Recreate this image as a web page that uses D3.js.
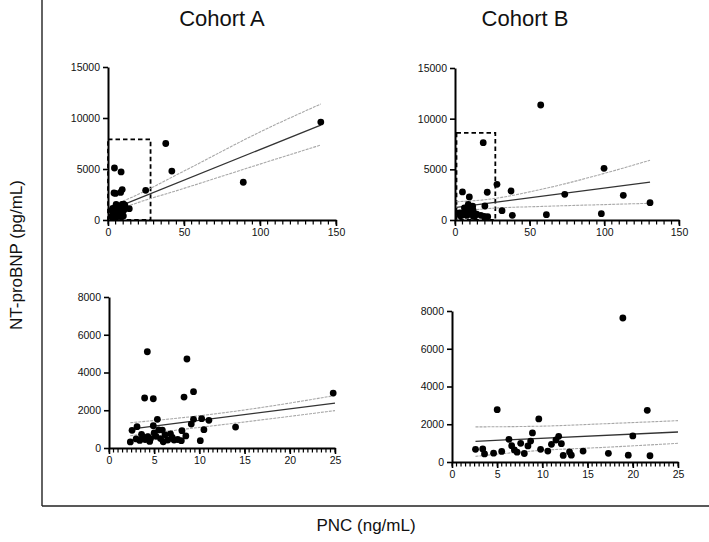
<!DOCTYPE html>
<html><head><meta charset="utf-8">
<script src="https://cdn.jsdelivr.net/npm/d3@7"></script>
<style>
body{margin:0;background:#fff;}
svg{display:block;font-family:"Liberation Sans",Arial,sans-serif;}
</style></head>
<body><svg id="c" width="709" height="542"></svg>
<script>
// ---------- DATA ----------
const titles = ["Cohort A", "Cohort B"];
const xLabel = "PNC (ng/mL)";
const yLabel = "NT-proBNP (pg/mL)";

const cohortA_pnc = [4.24,8.62,3.94,4.9,8.3,9.35,24.8,14.0,10.1,10.5,11.05,10.25,9.35,9.1,8.07,8.5,8.0,5.35,4.9,5.5,3.1,2.55,2.36,3.6,
  3.0,3.4,3.8,4.0,4.3,4.6,5.0,5.2,5.7,6.0,6.2,6.5,6.8,7.0,7.2,7.6,5.9,4.5,
  38,42,89,140];
const cohortA_bnp = [5100,4715,2650,2610,2700,2985,2910,1110,390,970,1465,1555,1520,1270,920,640,390,1520,1180,955,1130,935,320,725,
  480,400,560,450,600,500,800,620,500,330,700,420,750,560,420,450,950,350,
  7500,4800,3700,9600];

const cohortB_pnc = [2.6,3.4,3.6,4.6,5.0,5.5,6.3,6.6,6.9,7.2,7.6,8.0,8.4,8.7,8.9,9.6,9.8,10.6,11.0,11.5,11.8,12.1,12.3,13.0,13.2,14.5,17.3,18.9,19.5,20.0,21.6,21.9,
  57.4,99.8,28.1,37.5,73.5,112.7,130.6,31.5,38.4,61.2,98];
const cohortB_bnp = [670,690,430,470,2770,560,1200,865,640,520,990,450,850,1110,1540,2280,670,580,935,1165,1360,970,350,530,360,580,460,7630,360,1380,2740,330,
  11350,5100,3520,2860,2530,2435,1710,920,460,530,620];

// regression fits (line endpoints) and 95% CI bands
const fitA_all_x = [2.36, 140], fitA_all_y = [1050, 9310];
const ciA_all_x = [2.36, 13, 50, 100, 140];
const ciA_all_lo = [720, 1350, 3100, 5480, 7350];
const ciA_all_hi = [1400, 2050, 4800, 8630, 11370];

const fitA_sub_x = [2.36, 25], fitA_sub_y = [1000, 2380];
const ciA_sub_x = [2.36, 7, 14, 25];
const ciA_sub_lo = [650, 920, 1320, 1980];
const ciA_sub_hi = [1340, 1550, 1950, 2780];

const fitB_all_x = [1, 130.6], fitB_all_y = [1250, 3730];
const ciB_all_x = [1, 20, 60, 100, 130.6];
const ciB_all_lo = [800, 1100, 1350, 1520, 1650];
const ciB_all_hi = [1800, 2000, 3100, 4600, 5900];

const fitB_sub_x = [2.6, 25], fitB_sub_y = [1097, 1590];
const ciB_sub_x = [2.6, 10, 17, 25];
const ciB_sub_lo = [300, 620, 780, 990];
const ciB_sub_hi = [1860, 1900, 2030, 2190];

// zoom boxes drawn on the full-range panels [x0, x1, yMax]
const boxA = [0, 28, 7900];
const boxB = [1, 27, 8600];

const xTicksTop = [0, 50, 100, 150];
const yTicksTop = [0, 5000, 10000, 15000];
const xTicksBot = [0, 5, 10, 15, 20, 25];
const yTicksBot = [0, 2000, 4000, 6000, 8000];

// ---------- DRAW ----------
const svg = d3.select("#c");

svg.append("line").attr("x1",42).attr("x2",42).attr("y1",0).attr("y2",506)
  .attr("stroke","#222").attr("stroke-width",1.4);
svg.append("line").attr("x1",42).attr("x2",709).attr("y1",506).attr("y2",506)
  .attr("stroke","#222").attr("stroke-width",1.4);

svg.append("text").attr("x",222).attr("y",26).attr("text-anchor","middle")
  .attr("font-size",22).attr("fill","#111").text(titles[0]);
svg.append("text").attr("x",525).attr("y",26).attr("text-anchor","middle")
  .attr("font-size",22).attr("fill","#111").text(titles[1]);
svg.append("text").attr("x",366).attr("y",531).attr("text-anchor","middle")
  .attr("font-size",17).attr("fill","#111").text(xLabel);
svg.append("text").attr("transform","translate(22,255) rotate(-90)").attr("text-anchor","middle")
  .attr("font-size",17).attr("fill","#111").text(yLabel);

const pts = (xs, ys, f) => xs.map((x,i)=>({x, y: ys[i]})).filter(f || (()=>true));

const panels = [
  {px:[108,336], py:[220,67], xd:[0,150], yd:[0,15000], xt:xTicksTop, yt:yTicksTop, minor:5,
   data: pts(cohortA_pnc, cohortA_bnp), fx:fitA_all_x, fy:fitA_all_y, cx:ciA_all_x, clo:ciA_all_lo, chi:ciA_all_hi, box:boxA},
  {px:[455,679], py:[220,68], xd:[0,150], yd:[0,15000], xt:xTicksTop, yt:yTicksTop, minor:5,
   data: pts(cohortB_pnc, cohortB_bnp), fx:fitB_all_x, fy:fitB_all_y, cx:ciB_all_x, clo:ciB_all_lo, chi:ciB_all_hi, box:boxB},
  {px:[109,335], py:[448,297], xd:[0,25], yd:[0,8000], xt:xTicksBot, yt:yTicksBot, minor:0.5,
   data: pts(cohortA_pnc, cohortA_bnp, d=>d.x<=25), fx:fitA_sub_x, fy:fitA_sub_y, cx:ciA_sub_x, clo:ciA_sub_lo, chi:ciA_sub_hi},
  {px:[452,678], py:[462,311], xd:[0,25], yd:[0,8000], xt:xTicksBot, yt:yTicksBot, minor:0.5,
   data: pts(cohortB_pnc, cohortB_bnp, d=>d.x<=25), fx:fitB_sub_x, fy:fitB_sub_y, cx:ciB_sub_x, clo:ciB_sub_lo, chi:ciB_sub_hi},
];

const fmt = d3.format("d");

panels.forEach(p => {
  const x = d3.scaleLinear().domain(p.xd).range(p.px);
  const y = d3.scaleLinear().domain(p.yd).range(p.py);
  const g = svg.append("g");

  // minor x ticks (explicit lines)
  const minorVals = d3.range(p.xd[0], p.xd[1] + p.minor/2, p.minor);
  g.append("g").selectAll("line").data(minorVals).join("line")
    .attr("x1", d=>x(d)).attr("x2", d=>x(d))
    .attr("y1", p.py[0]).attr("y2", p.py[0] + 4.5)
    .attr("stroke","#000").attr("stroke-width",1.2);

  const gx = g.append("g").attr("transform",`translate(0,${p.py[0]})`)
    .call(d3.axisBottom(x).tickValues(p.xt).tickFormat(fmt).tickSize(6).tickSizeOuter(0).tickPadding(3));
  gx.select(".domain").attr("stroke","#000").attr("stroke-width",2);
  gx.selectAll(".tick line").attr("stroke","#000").attr("stroke-width",1.6);
  gx.selectAll("text").attr("font-size",10.5).attr("fill","#111");

  const gy = g.append("g").attr("transform",`translate(${p.px[0]},0)`)
    .call(d3.axisLeft(y).tickValues(p.yt).tickFormat(fmt).tickSize(5).tickSizeOuter(0).tickPadding(3));
  gy.select(".domain").attr("stroke","#000").attr("stroke-width",2);
  gy.selectAll(".tick line").attr("stroke","#000").attr("stroke-width",1.6);
  gy.selectAll("text").attr("font-size",10.5).attr("fill","#111");

  if (p.box) {
    g.append("rect").attr("x", x(p.box[0])).attr("y", y(p.box[2]))
      .attr("width", x(p.box[1]) - x(p.box[0])).attr("height", y(0) - y(p.box[2]))
      .attr("fill","none").attr("stroke","#000").attr("stroke-width",1.8)
      .attr("stroke-dasharray","4.5,3");
  }

  const ciLine = d3.line().x(d=>x(d[0])).y(d=>y(d[1])).curve(d3.curveMonotoneX);
  [p.clo, p.chi].forEach(arr => {
    g.append("path").attr("d", ciLine(p.cx.map((v,i)=>[v, arr[i]])))
      .attr("fill","none").attr("stroke","#a8a8a8").attr("stroke-width",1.1)
      .attr("stroke-dasharray","3,1");
  });
  g.append("line").attr("x1",x(p.fx[0])).attr("x2",x(p.fx[1]))
    .attr("y1",y(p.fy[0])).attr("y2",y(p.fy[1]))
    .attr("stroke","#333").attr("stroke-width",1.3);

  g.selectAll("circle.pt").data(p.data).join("circle").attr("class","pt")
    .attr("cx", d=>x(d.x)).attr("cy", d=>y(d.y)).attr("r", 3.4).attr("fill","#000");
});
</script></body></html>
